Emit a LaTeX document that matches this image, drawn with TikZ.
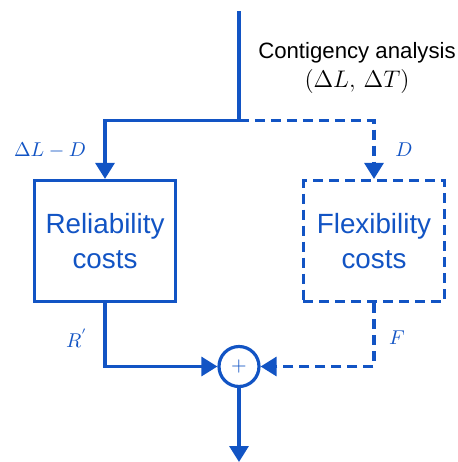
\documentclass[tikz,border=0pt]{standalone}
\usepackage{fontspec}
\setmainfont{Liberation Sans}
\usetikzlibrary{arrows.meta}
\definecolor{cblue}{RGB}{18,84,196}
\begin{document}
\begin{tikzpicture}[x=0.5pt,y=-0.5pt,
  conn/.style={draw=cblue, line width=1.6pt},
  tip/.style={-{Triangle[length=8pt,width=9.5pt]}},
  dsh/.style={dash pattern=on 5pt off 3pt},
  costbox/.style={draw=cblue, line width=1.6pt, text=cblue, minimum width=70.5pt, minimum height=60.5pt, align=center, font=\fontsize{13.9}{17.5}\selectfont, inner sep=0pt},
  lbl/.style={text=cblue, font=\fontsize{10.4}{12}\selectfont, inner sep=0pt},
  sumnode/.style={circle, draw=cblue, line width=1.6pt, minimum size=20pt, inner sep=0pt, text=cblue, font=\fontsize{10}{12}\selectfont},
]
\useasboundingbox (0,0) rectangle (458,462);
\coordinate (top) at (239,11);
\coordinate (split) at (239,120.5);
\coordinate (out) at (239,462);
\node[costbox] (rel) at (105,241) {Reliability\\costs};
\node[costbox, dsh] (flex) at (374,241) {Flexibility\\costs};
\node[sumnode] (sum) at (239,366.5) {$+$};
\node[anchor=base, font=\fontsize{11.1}{13}\selectfont, inner sep=0pt] (ca) at (357,58) {Contigency analysis};
\node[font=\fontsize{11.5}{13}\selectfont, inner sep=0pt] (dl) at (357,81) {$(\Delta L,\,\Delta T)$};
\node[lbl] (ldl) at (50,150) {$\Delta L - D$};
\node[lbl] (ld) at (404,150) {$D$};
\node[lbl] (lr) at (77,338) {$R^{'}$};
\node[lbl] (lf) at (397,338) {$F$};
\draw[conn] (top) -- (split);
\draw[conn, tip] (split) -| (rel.north);
\draw[conn, tip, dsh] (split) -| (flex.north);
\draw[conn, tip] (rel.south) |- (sum.west);
\draw[conn, tip, dsh] (flex.south) |- (sum.east);
\draw[conn, tip] (sum.south) -- (out);
\end{tikzpicture}
\end{document}
